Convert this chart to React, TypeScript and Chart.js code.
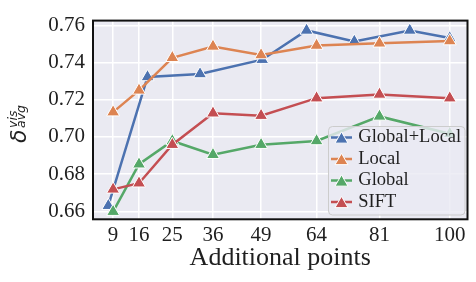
import React, { useEffect, useRef } from "react";
import { Chart, registerables } from "chart.js";
Chart.register(...registerables);

const xTicks = [9, 16, 25, 36, 49, 64, 81, 100];
const yTicks = [0.66, 0.68, 0.7, 0.72, 0.74, 0.76];
const seriesNames = ["Global+Local", "Local", "Global", "SIFT"];
const seriesColors = ["#4C72B0", "#DD8452", "#55A868", "#C44E52"];
const globalLocalX = [7.7, 18.3, 32.5, 49.3, 61.3, 74.2, 89.2, 100];
const globalLocalY = [0.663, 0.7322, 0.7338, 0.7415, 0.7572, 0.7513, 0.7572, 0.7531];
const localY = [0.7133, 0.725, 0.7425, 0.7486, 0.744, 0.7491, 0.7503, 0.7515];
const globalY = [0.6598, 0.6853, 0.6978, 0.6904, 0.6958, 0.6978, 0.711, 0.7017];
const siftY = [0.6718, 0.6751, 0.6958, 0.7127, 0.7114, 0.7208, 0.7228, 0.7208];

const AXIS_BG = "#EAEAF2";
const TEXT = "#1f1f1f";
const SERIF = "'Liberation Serif', 'Times New Roman', serif";

function toPoints(xs: number[], ys: number[]) {
  return xs.map((x, i) => ({ x, y: ys[i] }));
}

const bgPlugin = {
  id: "bg",
  beforeDraw(chart: any) {
    const { ctx, chartArea: a } = chart;
    ctx.save();
    ctx.fillStyle = AXIS_BG;
    ctx.fillRect(a.left, a.top, a.right - a.left, a.bottom - a.top);
    ctx.restore();
  },
};

const framePlugin = {
  id: "frame",
  afterDraw(chart: any) {
    const { ctx, chartArea: a } = chart;
    ctx.save();
    // legend
    const lx = 328.5, ly = 126.5, lw = 136.5, lh = 88.5, r = 4;
    ctx.beginPath();
    ctx.moveTo(lx + r, ly);
    ctx.lineTo(lx + lw - r, ly);
    ctx.quadraticCurveTo(lx + lw, ly, lx + lw, ly + r);
    ctx.lineTo(lx + lw, ly + lh - r);
    ctx.quadraticCurveTo(lx + lw, ly + lh, lx + lw - r, ly + lh);
    ctx.lineTo(lx + r, ly + lh);
    ctx.quadraticCurveTo(lx, ly + lh, lx, ly + lh - r);
    ctx.lineTo(lx, ly + r);
    ctx.quadraticCurveTo(lx, ly, lx + r, ly);
    ctx.closePath();
    ctx.fillStyle = "rgba(234,234,242,0.8)";
    ctx.fill();
    ctx.strokeStyle = "#CCCCCC";
    ctx.lineWidth = 1;
    ctx.stroke();
    seriesNames.forEach((name, i) => {
      const y = 137.5 + i * 21.5;
      ctx.strokeStyle = seriesColors[i];
      ctx.lineWidth = 2.5;
      ctx.beginPath();
      ctx.moveTo(331, y);
      ctx.lineTo(352, y);
      ctx.stroke();
      const rad = 7.5;
      const cx = 341.5;
      const cy = y + rad * 0.25;
      ctx.beginPath();
      ctx.moveTo(cx, cy - rad);
      ctx.lineTo(cx + rad * Math.sin((2 * Math.PI) / 3), cy + rad * 0.5);
      ctx.lineTo(cx - rad * Math.sin((2 * Math.PI) / 3), cy + rad * 0.5);
      ctx.closePath();
      ctx.fillStyle = seriesColors[i];
      ctx.fill();
      ctx.strokeStyle = "#ffffff";
      ctx.lineWidth = 1;
      ctx.stroke();
      ctx.fillStyle = TEXT;
      ctx.font = `18.5px ${SERIF}`;
      ctx.textAlign = "left";
      ctx.textBaseline = "middle";
      ctx.fillText(name, 358.3, y);
    });
    // frame
    ctx.strokeStyle = "#111111";
    ctx.lineWidth = 2;
    ctx.strokeRect(a.left, a.top, a.right - a.left, a.bottom - a.top);
    // y title
    const cxT = 26;
    const cyT = (a.top + a.bottom) / 2 + 4;
    ctx.translate(cxT, cyT);
    ctx.rotate(-Math.PI / 2);
    ctx.fillStyle = TEXT;
    ctx.textAlign = "left";
    ctx.textBaseline = "alphabetic";
    const bigFont = "italic 22px 'DejaVu Sans', sans-serif";
    const smallFont = "italic 12.5px 'DejaVu Sans', sans-serif";
    ctx.font = bigFont;
    const wd = ctx.measureText("δ").width;
    ctx.font = smallFont;
    const ws = Math.max(ctx.measureText("vis").width, ctx.measureText("avg").width);
    const total = wd + 1.5 + ws;
    const x0 = -total / 2;
    ctx.font = bigFont;
    ctx.fillText("δ", x0, 0);
    ctx.font = smallFont;
    ctx.fillText("vis", x0 + wd + 1.5, -9.5);
    ctx.fillText("avg", x0 + wd + 1.5, -1.5);
    ctx.restore();
  },
};

export default function App() {
  const ref = useRef<HTMLCanvasElement | null>(null);
  useEffect(() => {
    if (!ref.current) return;
    const ys = [globalLocalY, localY, globalY, siftY];
    const datasets = seriesNames.map((name, i) => ({
      label: name,
      data: i === 0 ? toPoints(globalLocalX, globalLocalY) : toPoints(xTicks, ys[i]),
      borderColor: seriesColors[i],
      backgroundColor: seriesColors[i],
      borderWidth: 2.5,
      pointStyle: "triangle",
      pointRadius: 7.5,
      pointBorderColor: "#ffffff",
      pointBorderWidth: 1,
      tension: 0,
      order: 3 - i,
    }));
    const chart = new Chart(ref.current, {
      type: "line",
      data: { datasets },
      options: {
        animation: false,
        responsive: false,
        layout: { padding: { left: 0, top: 9, right: 5.3, bottom: 0 } },
        plugins: { legend: { display: false }, tooltip: { enabled: false } },
        scales: {
          x: {
            type: "linear",
            min: 3.56,
            max: 104.8,
            afterBuildTicks: (s: any) => {
              s.ticks = xTicks.map((v) => ({ value: v }));
            },
            afterFit: (s: any) => {
              s.height = 62.7;
            },
            ticks: {
              padding: 4,
              color: TEXT,
              font: { family: SERIF, size: 21 },
              callback: (v: any) => String(v),
              maxRotation: 0,
              autoSkip: false,
            },
            grid: { color: "#ffffff", lineWidth: 1.5, drawTicks: false },
            border: { display: false },
            title: {
              display: true,
              text: "Additional points",
              color: TEXT,
              font: { family: SERIF, size: 26 },
              padding: { top: 0, bottom: 8 },
            },
          },
          y: {
            type: "linear",
            min: 0.6557,
            max: 0.7625,
            afterBuildTicks: (s: any) => {
              s.ticks = yTicks.map((v) => ({ value: v }));
            },
            afterFit: (s: any) => {
              s.width = 93;
            },
            ticks: {
              padding: 8,
              color: TEXT,
              font: { family: SERIF, size: 21 },
              callback: (v: any) => Number(v).toFixed(2),
              autoSkip: false,
            },
            grid: { color: "#ffffff", lineWidth: 1.5, drawTicks: false },
            border: { display: false },
          },
        },
      },
      plugins: [bgPlugin, framePlugin],
    } as any);
    return () => chart.destroy();
  }, []);
  return (
    <div style={{ position: "absolute", left: 0, top: 0, width: 476, height: 282 }}>
      <canvas ref={ref} width={476} height={282} />
    </div>
  );
}
